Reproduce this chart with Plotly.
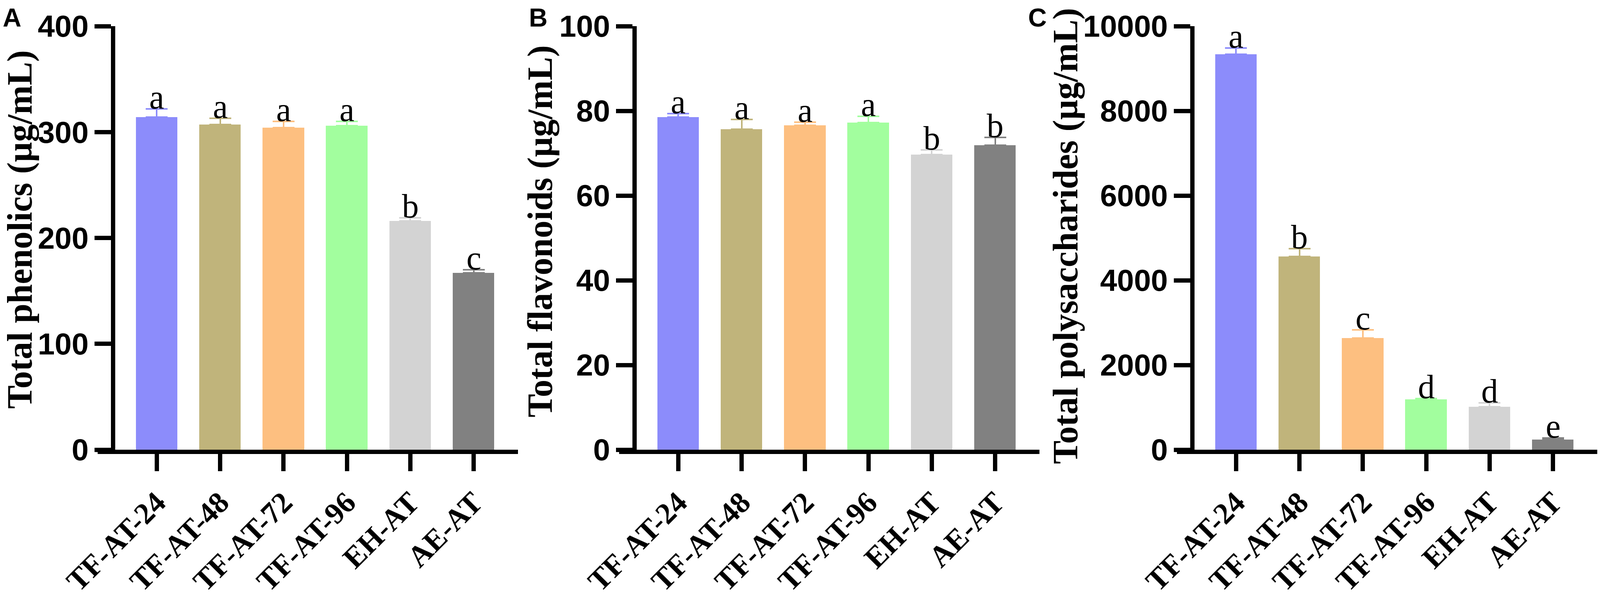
"""Total phenolics / flavonoids / polysaccharides for six extracts, three bar panels."""
import plotly.graph_objects as go

# ---------------------------------------------------------------------------
# Data
# ---------------------------------------------------------------------------

categories = ["TF-AT-24", "TF-AT-48", "TF-AT-72", "TF-AT-96", "EH-AT", "AE-AT"]
bar_colors = ["#8c8cfb", "#c0b47b", "#fdbf80", "#a2fe9e", "#d3d3d3", "#818181"]

phenolics_mean = [314, 307, 304, 306, 216, 167]
phenolics_sd = [8, 6, 6, 4, 3, 3]
phenolics_letters = ["a", "a", "a", "a", "b", "c"]

flavonoids_mean = [78.5, 75.7, 76.6, 77.2, 69.7, 71.9]
flavonoids_sd = [0.9, 2.3, 0.7, 1.5, 1.1, 1.8]
flavonoids_letters = ["a", "a", "a", "a", "b", "b"]

polysaccharides_mean = [9335, 4560, 2635, 1185, 1015, 240]
polysaccharides_sd = [145, 190, 195, 25, 95, 35]
polysaccharides_letters = ["a", "b", "c", "d", "d", "e"]

panels = [
    ("A", "Total phenolics (µg/mL)", phenolics_mean, phenolics_sd,
     phenolics_letters, [0, 400], 100),
    ("B", "Total flavonoids (µg/mL)", flavonoids_mean, flavonoids_sd,
     flavonoids_letters, [0, 100], 20),
    ("C", "Total polysaccharides (µg/mL)", polysaccharides_mean,
     polysaccharides_sd, polysaccharides_letters, [0, 10000], 2000),
]

# ---------------------------------------------------------------------------
# Geometry (pixels of the 4317x1537 canvas, used as paper fractions)
# ---------------------------------------------------------------------------

W, H = 4317, 1537
PLOT_TOP, PLOT_BOTTOM = 67, 1152
X_RANGE = [-0.93, 5.70]
CAT_PX = 171                       # pixels per category
PANEL_LEFT = [264, 1671, 3176]     # left end of each x-axis line
LETTER_X = [5, 1425, 2772]
TITLE_X = [54, 1458, 2875]
TITLE_Y = [588, 592, 604]

SERIF = "Liberation Serif, Times New Roman, serif"
SANS = "Liberation Sans, Arial, sans-serif"
LINE_W = 11

fig = go.Figure()
y_domain = [1 - PLOT_BOTTOM / H, 1 - PLOT_TOP / H]
x_span = (X_RANGE[1] - X_RANGE[0]) * CAT_PX

for i, (tag, title, means, sds, letters, yrange, dtick) in enumerate(panels):
    n = "" if i == 0 else str(i + 1)
    xa, ya = "x" + n, "y" + n
    left = PANEL_LEFT[i]
    yaxis_px = left + (0.93 - 0.69) * CAT_PX

    for cat, m, sd, col in zip(categories, means, sds, bar_colors):
        fig.add_trace(go.Bar(
            x=[cat], y=[m], xaxis=xa, yaxis=ya, width=0.655,
            marker=dict(color=col, line=dict(width=0)),
            error_y=dict(type="data", array=[sd], arrayminus=[0],
                         symmetric=False, color=col, thickness=4, width=28),
            showlegend=False,
        ))
    for cat, m, sd, lab in zip(categories, means, sds, letters):
        fig.add_annotation(
            x=cat, y=m + sd, xref=xa, yref=ya, text=lab, showarrow=False,
            yanchor="bottom", yshift=-20,
            font=dict(family=SERIF, size=86, color="black"),
        )

    fig.update_layout(**{
        "xaxis" + n: dict(
            domain=[left / W, (left + x_span) / W], range=X_RANGE,
            anchor=ya, type="category", categoryorder="array",
            categoryarray=categories, automargin=False,
            showline=True, linecolor="black", linewidth=LINE_W,
            ticks="outside", ticklen=44, tickwidth=LINE_W, tickcolor="black",
            tickangle=-45, ticklabelstandoff=4,
            tickfont=dict(family=SERIF, size=77, color="black", weight="bold"),
            showgrid=False, zeroline=False,
        ),
        "yaxis" + n: dict(
            domain=y_domain, range=yrange, anchor="free",
            position=yaxis_px / W, dtick=dtick, tick0=0, tickformat="d",
            automargin=False,
            showline=True, linecolor="black", linewidth=LINE_W,
            ticks="outside", ticklen=42, tickwidth=LINE_W, tickcolor="black",
            tickfont=dict(family=SANS, size=78, color="black", weight="bold"),
            showgrid=False, zeroline=False,
        ),
    })

    # panel letter
    fig.add_annotation(
        x=LETTER_X[i] / W, y=1 - 6 / H, xref="paper", yref="paper",
        text=tag, showarrow=False, xanchor="left", yanchor="top",
        font=dict(family=SANS, size=66, color="black", weight="bold"),
    )
    # rotated y title
    fig.add_annotation(
        x=TITLE_X[i] / W, y=1 - TITLE_Y[i] / H, xref="paper", yref="paper",
        text=title, showarrow=False, textangle=-90, borderpad=0,
        xanchor="center", yanchor="middle",
        font=dict(family=SERIF, size=90, color="black", weight="bold"),
    )

# size follows the browser window so the whole figure is always in view
fig.update_layout(
    autosize=True,
    margin=dict(l=0, r=0, t=0, b=0, autoexpand=False),
    paper_bgcolor="white", plot_bgcolor="white",
    bargap=0,
)

fig.write_html(
    "out.html", default_width="100vw", default_height="100vh",
    config={"displayModeBar": False},
    post_script=(
        "document.body.style.margin='0';"
        "document.body.style.overflow='hidden';"
        "Plotly.Plots.resize(document.getElementById('{plot_id}'));"
    ),
)
